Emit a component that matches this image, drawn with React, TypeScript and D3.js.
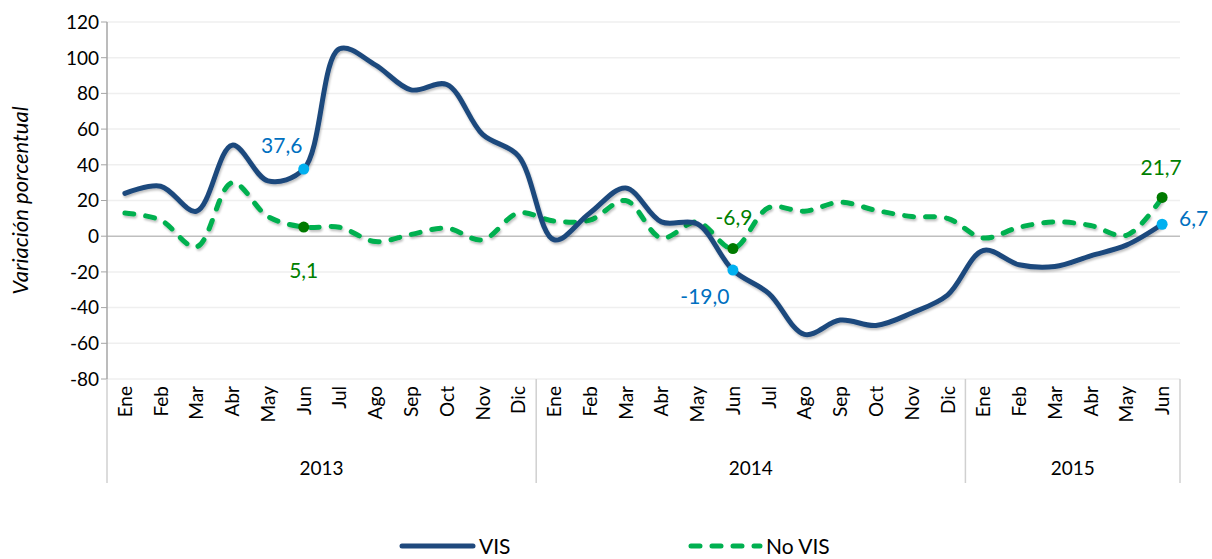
import React from "react";
import * as d3 from "d3";

const months = ["Ene","Feb","Mar","Abr","May","Jun","Jul","Ago","Sep","Oct","Nov","Dic"];
const years = ["2013", "2014", "2015"];
const yearMonthCounts = [12, 12, 6];
const categories: string[] = [];
years.forEach((y, i) => months.slice(0, yearMonthCounts[i]).forEach(m => categories.push(`${m} ${y}`)));

const visValues = [24, 28, 14, 51, 31, 37.6, 105, 96, 82, 85, 57, 45,
  -2, 13, 27, 8, 7, -19.0, -32, -55, -47, -50, -43, -33,
  -8, -16, -17, -11, -5, 6.7];
const noVisValues = [13, 9, -6, 30, 11, 5.1, 5, -3, 1, 4.5, -2, 13,
  8.5, 9, 20, -1, 8, -6.9, 16, 14, 19, 14.5, 11, 10,
  -1, 5, 8, 6, 0.5, 21.7];
const yTicks = [120, 100, 80, 60, 40, 20, 0, -20, -40, -60, -80];

const annotations = [
  { series: "vis", index: 5, text: "37,6", dx: -22, dy: -24, anchor: "middle" },
  { series: "novis", index: 5, text: "5,1", dx: 0, dy: 43, anchor: "middle" },
  { series: "novis", index: 17, text: "-6,9", dx: 1, dy: -31, anchor: "middle" },
  { series: "vis", index: 17, text: "-19,0", dx: -28, dy: 26, anchor: "middle" },
  { series: "novis", index: 29, text: "21,7", dx: -1, dy: -30, anchor: "middle" },
  { series: "vis", index: 29, text: "6,7", dx: 17, dy: -6, anchor: "start" },
];

const W = 1212, H = 559;
const left = 107, right = 1180, top = 22, bottom = 379;
const FONT = "Lato, 'Open Sans', sans-serif";
const VIS_COLOR = "#1F497D";
const NOVIS_COLOR = "#00B050";

export default function App() {
  const y = d3.scaleLinear().domain([-80, 120]).range([bottom, top]);
  const x = d3.scaleBand<number>().domain(d3.range(categories.length)).range([left, right]);
  const cx = (i: number) => (x(i) as number) + x.bandwidth() / 2;
  const line = d3.line<number>().x((_, i) => cx(i)).y(d => y(d)).curve(d3.curveCatmullRom.alpha(0.5));

  const yearBounds: number[] = [left];
  let acc = 0;
  yearMonthCounts.forEach(c => { acc += c; yearBounds.push(x(acc - 1)! + x.bandwidth()); });

  const blue = "#0070C0", green = "#008000";

  return (
    <svg width={W} height={H} style={{ position: "absolute", left: 0, top: 0, background: "#fff" }}>
      <defs>
        <filter id="sh" x="-5%" y="-5%" width="110%" height="120%">
          <feDropShadow dx="1" dy="2" stdDeviation="1.2" floodColor="#000" floodOpacity="0.25" />
        </filter>
      </defs>
      {yTicks.map(t => (
        <g key={t}>
          <line x1={left} x2={right} y1={y(t)} y2={y(t)} stroke={t === 0 ? "#BFBFBF" : "#EFEFEF"} strokeWidth={1.5} />
          <line x1={left - 6} x2={left} y1={y(t)} y2={y(t)} stroke="#A6A6A6" strokeWidth={1} />
          <text x={99} y={y(t)} dy="0.36em" textAnchor="end" fontFamily={FONT} fontSize={19} fill="#000">{t}</text>
        </g>
      ))}
      <line x1={left} x2={left} y1={top} y2={bottom} stroke="#A6A6A6" strokeWidth={1.5} />
      {yearBounds.map((b, i) => (
        <line key={i} x1={b} x2={b} y1={bottom} y2={483} stroke="#D0D0D0" strokeWidth={1.5} />
      ))}
      {categories.map((c, i) => (
        <text key={c} transform={`translate(${cx(i) + 7},386) rotate(-90)`} textAnchor="end"
          fontFamily={FONT} fontSize={19} fill="#000">{c.split(" ")[0]}</text>
      ))}
      {years.map((yr, i) => (
        <text key={yr} x={(yearBounds[i] + yearBounds[i + 1]) / 2} y={475} textAnchor="middle"
          fontFamily={FONT} fontSize={19} fill="#000">{yr}</text>
      ))}
      <text transform={`translate(28,${(top + bottom) / 2}) rotate(-90)`} textAnchor="middle"
        fontFamily={FONT} fontSize={22} fontStyle="italic" fill="#000">Variación porcentual</text>

      <path d={line(noVisValues) || ""} fill="none" stroke={NOVIS_COLOR} strokeWidth={5}
        strokeDasharray="9 12" strokeLinecap="round" filter="url(#sh)" />
      <path d={line(visValues) || ""} fill="none" stroke={VIS_COLOR} strokeWidth={5}
        strokeLinecap="round" filter="url(#sh)" />

      {annotations.map((a, k) => {
        const v = a.series === "vis" ? visValues[a.index] : noVisValues[a.index];
        const px = cx(a.index), py = y(v);
        const col = a.series === "vis" ? blue : green;
        return (
          <g key={k}>
            <circle cx={px} cy={py} r={5.5} fill={a.series === "vis" ? "#00B0F0" : "#007A00"} />
            <text x={px + a.dx} y={py + a.dy} dy="0.36em" textAnchor={a.anchor as any}
              fontFamily={FONT} fontSize={21} fill={col}>{a.text}</text>
          </g>
        );
      })}

      <line x1={402} x2={473} y1={546} y2={546} stroke={VIS_COLOR} strokeWidth={5} strokeLinecap="round" />
      <text x={479} y={546} dy="0.36em" fontFamily={FONT} fontSize={21} fill="#000">VIS</text>
      <line x1={691} x2={760} y1={546} y2={546} stroke={NOVIS_COLOR} strokeWidth={5} strokeLinecap="round" strokeDasharray="9 12" />
      <text x={766} y={546} dy="0.36em" fontFamily={FONT} fontSize={21} fill="#000">No VIS</text>
    </svg>
  );
}
